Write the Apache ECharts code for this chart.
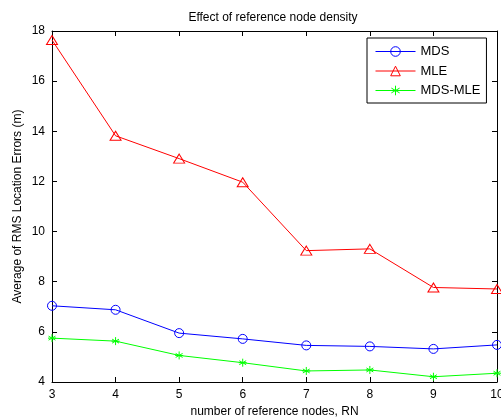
<!DOCTYPE html>
<html lang="en">

<head>
    <meta charset="UTF-8">
    <title>chart</title>
    <style>
        html,
        body,
        #chart {
            margin: 0;
            padding: 0;
            overflow: hidden;
            width: 100%;
            height: 100%;
            background: #fff;
        }
    </style>
</head>

<body>
    <div id="chart"></div>
    <script src="https://cdn.jsdelivr.net/npm/echarts@6/dist/echarts.min.js"></script>
    <script>
        var nodes = [3, 4, 5, 6, 7, 8, 9, 10];
        var mds = [7.04, 6.88, 5.95, 5.72, 5.46, 5.42, 5.32, 5.48];
        var mle = [17.64, 13.82, 12.91, 11.97, 9.24, 9.31, 7.77, 7.71];
        var mdsMle = [5.75, 5.63, 5.06, 4.77, 4.44, 4.48, 4.21, 4.35];

        var font = 'Liberation Sans, Arial, sans-serif';
        var star = 'path://M0,-5L0,5M-4.3,-2.5L4.3,2.5M-4.3,2.5L4.3,-2.5M-5,0L5,0';
        var tri = 'path://M0,-4.5L5,4L-5,4Z';

        function pairs(vals) {
            return nodes.map(function (n, i) { return [n, vals[i]]; });
        }

        function axisBase() {
            return {
                axisLine: { show: true, lineStyle: { color: '#000', width: 1 } },
                axisTick: { show: true, inside: true, length: 5, lineStyle: { color: '#000' } },
                splitLine: { show: false },
                axisLabel: { color: '#000', fontSize: 12, fontFamily: font }
            };
        }

        var chart = echarts.init(document.getElementById('chart'));

        var xBottom = Object.assign(axisBase(), {
            type: 'value', min: 3, max: 10, interval: 1, position: 'bottom',
            name: 'number of reference nodes, RN', nameLocation: 'middle', nameGap: 24,
            nameMoveOverlap: false,
            nameTextStyle: { color: '#000', fontSize: 12, fontFamily: font }
        });
        xBottom.axisLabel.margin = 7;
        xBottom.axisLabel.alignMaxLabel = 'center';
        xBottom.axisLabel.alignMinLabel = 'center';
        var xTop = Object.assign(axisBase(), {
            type: 'value', min: 3, max: 10, interval: 1, position: 'top'
        });
        xTop.axisLabel = { show: false };

        var yLeft = Object.assign(axisBase(), {
            type: 'value', min: 4, max: 18, interval: 2, position: 'left',
            name: 'Average of RMS Location Errors (m)', nameLocation: 'middle', nameGap: 28,
            nameMoveOverlap: false,
            nameTextStyle: { color: '#000', fontSize: 12, fontFamily: font }
        });
        yLeft.axisLabel.margin = 7;
        var yRight = Object.assign(axisBase(), {
            type: 'value', min: 4, max: 18, interval: 2, position: 'right'
        });
        yRight.axisLabel = { show: false };

        function mark(c) {
            return { color: 'rgba(255,255,255,0)', borderColor: c, borderWidth: 1 };
        }

        chart.setOption({
            animation: false,
            title: {
                text: 'Effect of reference node density',
                left: 268, top: 7, textAlign: 'center',
                textStyle: { color: '#000', fontSize: 12, fontWeight: 'normal', fontFamily: font }
            },
            grid: { left: 52, right: 4, top: 31, bottom: 37, containLabel: false, outerBoundsMode: 'none' },
            legend: {
                orient: 'vertical', left: 367, top: 38,
                backgroundColor: '#fff', borderColor: '#000', borderWidth: 1, borderRadius: 0,
                padding: [7, 6, 6, 8], itemGap: 6.5, itemWidth: 40, itemHeight: 12,
                lineStyle: { width: 1 },
                itemStyle: { borderWidth: 1 },
                textStyle: { color: '#000', fontSize: 13, fontFamily: font },
                data: ['MDS', 'MLE', 'MDS-MLE']
            },
            xAxis: [xBottom, xTop],
            yAxis: [yLeft, yRight],
            series: [{
                name: 'MDS', type: 'line', data: pairs(mds),
                symbol: 'circle', symbolSize: 9,
                lineStyle: { color: '#0000ff', width: 1 },
                itemStyle: mark('#0000ff')
            }, {
                name: 'MLE', type: 'line', data: pairs(mle),
                symbol: tri, symbolSize: [11, 9],
                lineStyle: { color: '#ff0000', width: 1 },
                itemStyle: mark('#ff0000')
            }, {
                name: 'MDS-MLE', type: 'line', data: pairs(mdsMle),
                symbol: star, symbolSize: 8,
                lineStyle: { color: '#00ff00', width: 1 },
                itemStyle: { color: '#00ff00', borderColor: '#00ff00', borderWidth: 1 }
            }]
        });
    </script>
</body>

</html>
